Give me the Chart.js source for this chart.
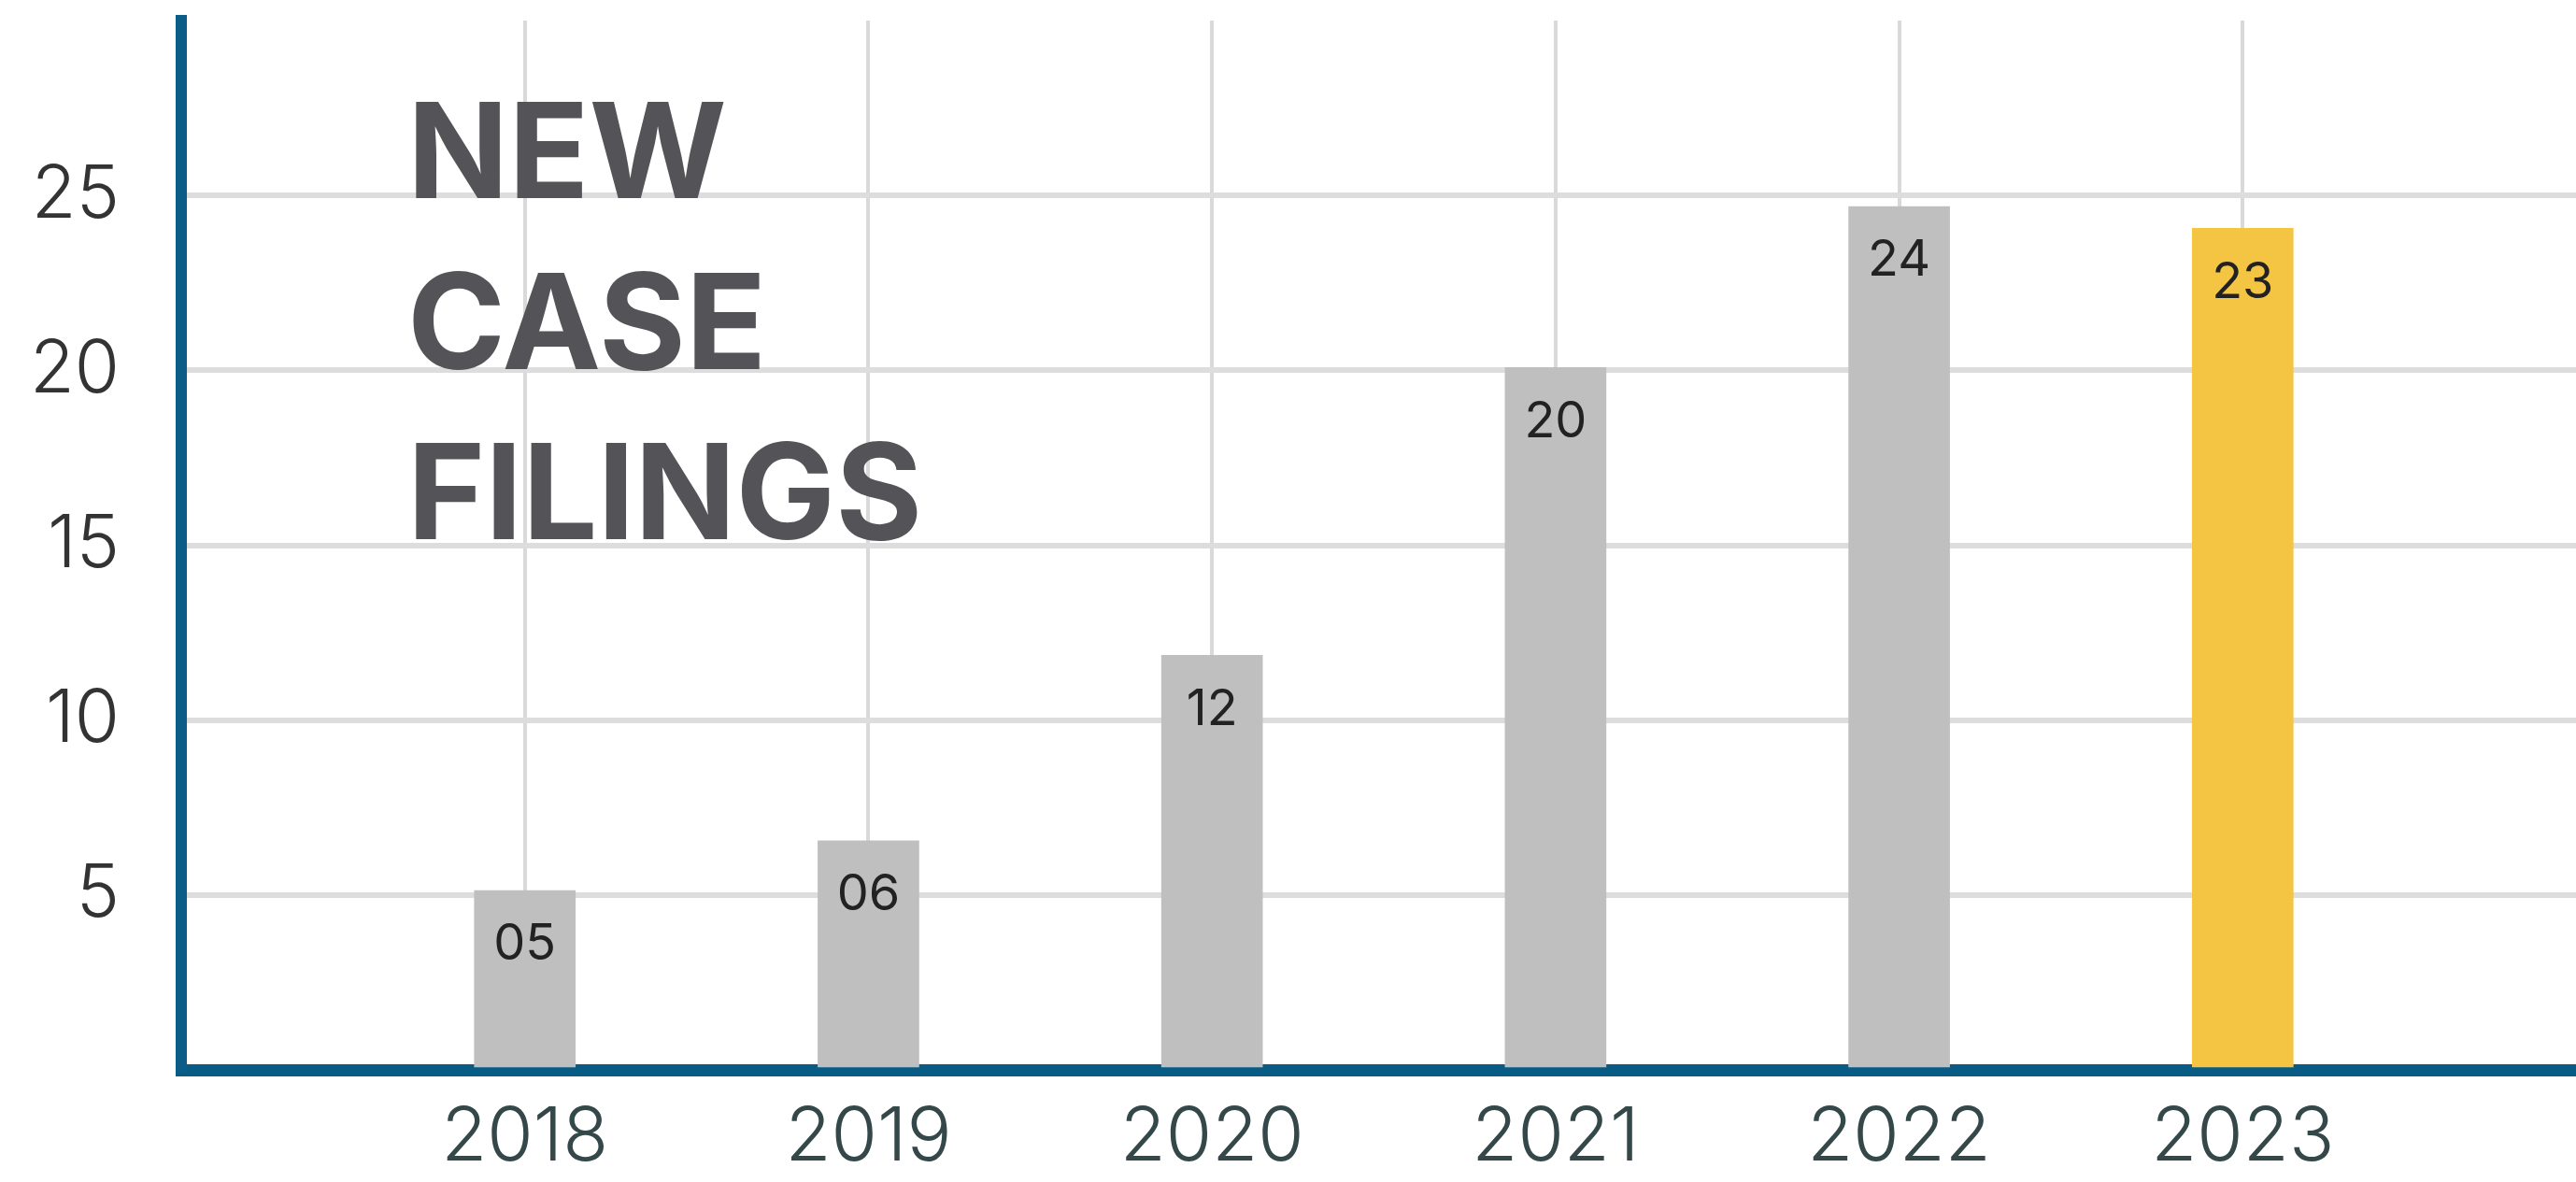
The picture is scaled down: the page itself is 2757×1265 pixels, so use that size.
<!DOCTYPE html>
<html>
<head>
<meta charset="utf-8">
<script src="https://cdn.jsdelivr.net/npm/chart.js@4.4.0/dist/chart.umd.min.js"></script>
<style>
  html, body { margin: 0; padding: 0; background: #ffffff; }
  #wrap { width: 2757px; height: 1265px; }
</style>
</head>
<body>
<div id="wrap"><canvas id="c" width="2757" height="1265"></canvas></div>
<script>
// ---- data ----
const categories = ['2018', '2019', '2020', '2021', '2022', '2023'];
const filings = [5.13, 6.55, 11.85, 20.08, 24.68, 24.06];
const valueLabels = ['05', '06', '12', '20', '24', '23'];
const yTicks = [5, 10, 15, 20, 25];
const titleLines = ['NEW', 'CASE', 'FILINGS'];
const highlightCategory = '2023';

const points = categories.map((c, i) => ({ x: Number(c), y: filings[i] }));

const valueLabelPlugin = {
  id: 'valueLabels',
  afterDatasetsDraw(chart) {
    const ctx = chart.ctx;
    const meta = chart.getDatasetMeta(0);
    ctx.save();
    ctx.font = '400 54px Inter, "Noto Sans", sans-serif';
    ctx.fillStyle = '#222222';
    ctx.textAlign = 'center';
    ctx.textBaseline = 'middle';
    meta.data.forEach((bar, i) => {
      ctx.fillText(valueLabels[i], bar.x, bar.y + 58);
    });
    ctx.restore();
  }
};

const titlePlugin = {
  id: 'insetTitle',
  afterDatasetsDraw(chart) {
    const ctx = chart.ctx;
    ctx.save();
    ctx.font = '700 142px Inter, "Noto Sans", sans-serif';
    ctx.fillStyle = '#545458';
    ctx.textAlign = 'left';
    ctx.textBaseline = 'alphabetic';
    const baselines = [212, 395, 577];
    titleLines.forEach((t, i) => ctx.fillText(t, 436, baselines[i]));
    ctx.restore();
  }
};

new Chart(document.getElementById('c'), {
  type: 'bar',
  data: {
    datasets: [{
      data: points,
      backgroundColor: points.map((p, i) => categories[i] === highlightCategory ? '#f4c542' : '#bfbfbf'),
      borderWidth: 0,
      barThickness: 108
    }]
  },
  options: {
    responsive: false,
    devicePixelRatio: 1,
    animation: false,
    layout: { padding: { top: 22, right: 0, left: 0, bottom: 0 } },
    plugins: { legend: { display: false }, tooltip: { enabled: false }, title: { display: false } },
    scales: {
      x: {
        type: 'linear',
        min: 2017,
        max: 2023.97,
        offset: false,
        afterBuildTicks(scale) { scale.ticks = categories.map(c => ({ value: Number(c) })); },
        afterFit(scale) { scale.height = 120; scale.paddingLeft = 0; scale.paddingRight = 0; },
        ticks: {
          autoSkip: false,
          maxRotation: 0,
          padding: 25,
          color: '#34484a',
          font: { family: 'Inter, "Noto Sans", sans-serif', size: 80, weight: 300 },
          callback: (v) => categories.includes(String(v)) ? String(v) : ''
        },
        grid: {
          offset: false,
          drawTicks: false,
          lineWidth: 4,
          color: (ctx) => (ctx.tick && categories.includes(String(ctx.tick.value))) ? '#d9d9d9' : 'rgba(0,0,0,0)'
        },
        border: { display: true, color: '#075b85', width: 13 }
      },
      y: {
        min: 0,
        max: 30,
        afterFit(scale) { scale.width = 194; scale.paddingTop = 0; scale.paddingBottom = 0; },
        ticks: {
          stepSize: 5,
          padding: 66,
          color: '#333333',
          font: { family: 'Inter, "Noto Sans", sans-serif', size: 78, weight: 300 },
          callback: (v) => yTicks.includes(v) ? String(v) : ''
        },
        grid: {
          drawTicks: false,
          lineWidth: 6,
          color: (ctx) => (ctx.tick && yTicks.includes(ctx.tick.value)) ? '#dddddd' : 'rgba(0,0,0,0)'
        },
        border: { display: true, color: '#0b5c86', width: 12 }
      }
    }
  },
  plugins: [valueLabelPlugin, titlePlugin]
});
</script>
</body>
</html>
